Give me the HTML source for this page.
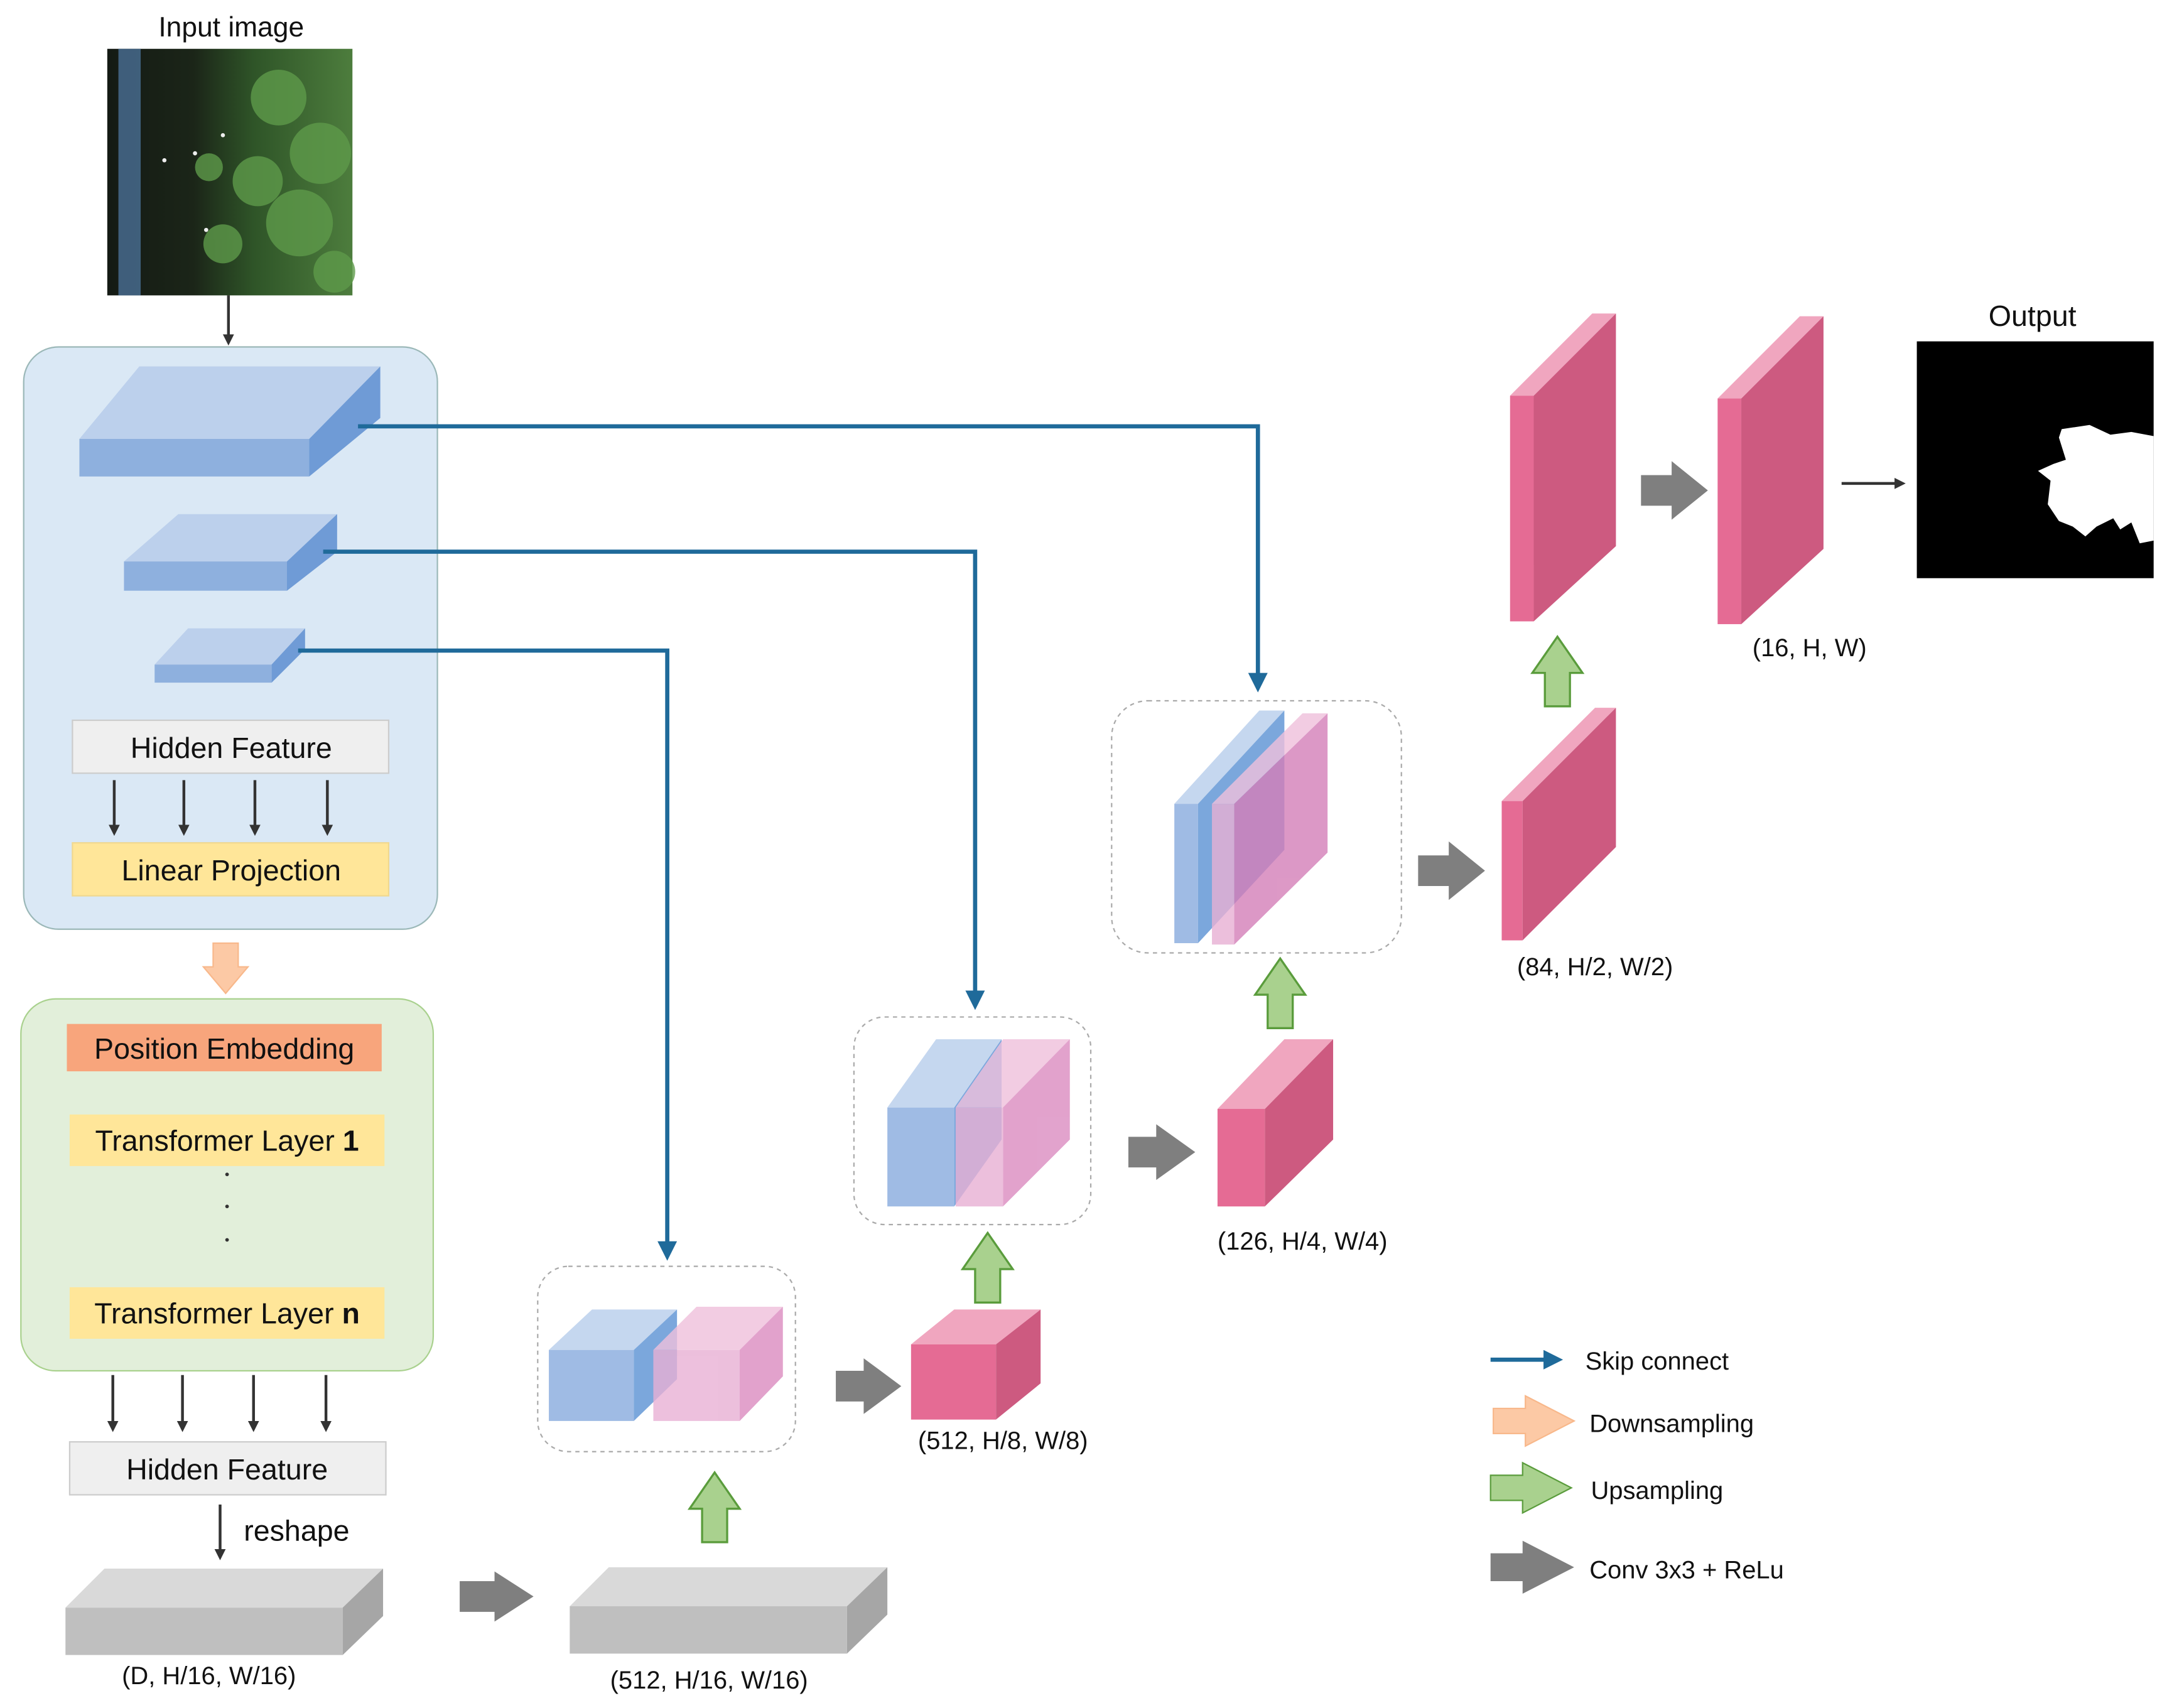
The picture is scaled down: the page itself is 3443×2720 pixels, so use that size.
<!DOCTYPE html>
<html><head><meta charset="utf-8"><style>
html,body{margin:0;padding:0;background:#fff;}
svg{display:block;}
text{font-family:"Liberation Sans",sans-serif;fill:#111;}
</style></head><body>
<svg width="3443" height="2720" viewBox="0 0 1552 1226" xmlns="http://www.w3.org/2000/svg">
<defs>
<linearGradient id="img" x1="0" y1="0" x2="1" y2="0">
<stop offset="0" stop-color="#141a14"/><stop offset="0.35" stop-color="#1b2518"/><stop offset="0.6" stop-color="#2f5528"/><stop offset="1" stop-color="#4d7d3d"/>
</linearGradient>
<marker id="ak" markerWidth="8" markerHeight="8" refX="6" refY="4" orient="auto" markerUnits="userSpaceOnUse"><path d="M0,0 L8,4 L0,8z" fill="#333"/></marker>
<marker id="ab" markerWidth="14" markerHeight="14" refX="10" refY="7" orient="auto" markerUnits="userSpaceOnUse"><path d="M0,0 L14,7 L0,14z" fill="#1f6a9a"/></marker>
</defs>

<!-- input image -->
<text x="166" y="26" font-size="20" text-anchor="middle">Input image</text>
<rect x="77" y="35" width="176" height="177" fill="url(#img)"/>
<rect x="85" y="35" width="16" height="177" fill="#4a6f95" opacity="0.8"/>
<g fill="#5e9a4a" opacity="0.8">
<circle cx="200" cy="70" r="20"/><circle cx="230" cy="110" r="22"/><circle cx="185" cy="130" r="18"/><circle cx="215" cy="160" r="24"/><circle cx="160" cy="175" r="14"/><circle cx="240" cy="195" r="15"/><circle cx="150" cy="120" r="10"/>
</g>
<g fill="#eee"><circle cx="160" cy="97" r="1.5"/><circle cx="140" cy="110" r="1.5"/><circle cx="148" cy="165" r="1.5"/><circle cx="118" cy="115" r="1.5"/></g>
<line x1="164" y1="212" x2="164" y2="246" stroke="#333" stroke-width="2" marker-end="url(#ak)"/>

<!-- blue encoder box -->
<rect x="17" y="249" width="297" height="418" rx="25" fill="#dae8f5" stroke="#9bb8b8" stroke-width="1"/>
<polygon points="57,315 100,263 273,263 222,315" fill="#bcd0ec"/>
<rect x="57" y="315" width="165" height="27" fill="#8eb0de"/>
<polygon points="222,315 273,263 273,300 222,342" fill="#6f9bd6"/>
<polygon points="89,403 128,369 242,369 206,403" fill="#bcd0ec"/>
<rect x="89" y="403" width="117" height="21" fill="#8eb0de"/>
<polygon points="206,403 242,369 242,396 206,424" fill="#6f9bd6"/>
<polygon points="111,477 135,451 219,451 195,477" fill="#bcd0ec"/>
<rect x="111" y="477" width="84" height="13" fill="#8eb0de"/>
<polygon points="195,477 219,451 219,466 195,490" fill="#6f9bd6"/>

<rect x="52" y="517" width="227" height="38" fill="#efefef" stroke="#ccc"/>
<text x="166" y="544" font-size="21" text-anchor="middle">Hidden Feature</text>
<g stroke="#333" stroke-width="2">
<line x1="82" y1="560" x2="82" y2="598" marker-end="url(#ak)"/>
<line x1="132" y1="560" x2="132" y2="598" marker-end="url(#ak)"/>
<line x1="183" y1="560" x2="183" y2="598" marker-end="url(#ak)"/>
<line x1="235" y1="560" x2="235" y2="598" marker-end="url(#ak)"/>
</g>
<rect x="52" y="605" width="227" height="38" fill="#ffe699" stroke="#f0d890"/>
<text x="166" y="632" font-size="21" text-anchor="middle">Linear Projection</text>

<!-- orange downsample -->
<polygon points="153,677 171,677 171,694 178,694 162,713 146,694 153,694" fill="#fcc9a5" stroke="#f8b88b"/>

<!-- green transformer box -->
<rect x="15" y="717" width="296" height="267" rx="25" fill="#e2efda" stroke="#a9d18e" stroke-width="1"/>
<rect x="48" y="735" width="226" height="34" fill="#f8a57c"/>
<text x="161" y="760" font-size="21" text-anchor="middle">Position Embedding</text>
<rect x="50" y="800" width="226" height="37" fill="#ffe699"/>
<text x="163" y="826" font-size="21" text-anchor="middle">Transformer Layer <tspan font-weight="bold">1</tspan></text>
<g fill="#333"><circle cx="163" cy="843" r="1.3"/><circle cx="163" cy="866" r="1.3"/><circle cx="163" cy="890" r="1.3"/></g>
<rect x="50" y="924" width="226" height="37" fill="#ffe699"/>
<text x="163" y="950" font-size="21" text-anchor="middle">Transformer Layer <tspan font-weight="bold">n</tspan></text>

<g stroke="#333" stroke-width="2">
<line x1="81" y1="987" x2="81" y2="1026" marker-end="url(#ak)"/>
<line x1="131" y1="987" x2="131" y2="1026" marker-end="url(#ak)"/>
<line x1="182" y1="987" x2="182" y2="1026" marker-end="url(#ak)"/>
<line x1="234" y1="987" x2="234" y2="1026" marker-end="url(#ak)"/>
<line x1="158" y1="1080" x2="158" y2="1118" marker-end="url(#ak)"/>
</g>
<rect x="50" y="1035" width="227" height="38" fill="#efefef" stroke="#ccc"/>
<text x="163" y="1062" font-size="21" text-anchor="middle">Hidden Feature</text>
<text x="175" y="1106" font-size="21">reshape</text>

<!-- gray slabs -->
<polygon points="47,1154 75,1126 275,1126 246,1154" fill="#d9d9d9"/>
<rect x="47" y="1154" width="199" height="34" fill="#bfbfbf"/>
<polygon points="246,1154 275,1126 275,1160 246,1188" fill="#a6a6a6"/>
<text x="150" y="1209" font-size="18" text-anchor="middle">(D, H/16, W/16)</text>
<polygon points="330,1135 355,1135 355,1128 383,1146 355,1164 355,1157 330,1157" fill="#7f7f7f"/>
<polygon points="409,1153 437,1125 637,1125 608,1153" fill="#d9d9d9"/>
<rect x="409" y="1153" width="199" height="34" fill="#bfbfbf"/>
<polygon points="608,1153 637,1125 637,1159 608,1187" fill="#a6a6a6"/>
<text x="509" y="1212" font-size="18" text-anchor="middle">(512, H/16, W/16)</text>

<!-- green up arrows -->
<g fill="#a9d18e" stroke="#5a9c3c" stroke-width="1.5">
<polygon points="504,1107 522,1107 522,1083 531,1083 513,1057 495,1083 504,1083"/>
<polygon points="700,935 718,935 718,911 727,911 709,885 691,911 700,911"/>
<polygon points="910,738 928,738 928,714 937,714 919,688 901,714 910,714"/>
<polygon points="1109,507 1127,507 1127,483 1136,483 1118,457 1100,483 1109,483"/>
</g>

<!-- stage 1 -->
<rect x="386" y="909" width="185" height="133" rx="22" fill="none" stroke="#aaa" stroke-dasharray="3,3"/>
<polygon points="394,969 425,940 486,940 455,969" fill="#c5d7ef"/>
<rect x="394" y="969" width="61" height="51" fill="#9fbbe4"/>
<polygon points="455,969 486,940 486,990 455,1020" fill="#7ba7dc"/>
<g opacity="0.8">
<polygon points="469,969 500,938 562,938 531,969" fill="#f0c0dc"/>
<rect x="469" y="969" width="62" height="51" fill="#e8b0d4"/>
<polygon points="531,969 562,938 562,988 531,1020" fill="#db8cc0"/>
</g>
<polygon points="600,984 620,984 620,975 647,995 620,1015 620,1006 600,1006" fill="#7f7f7f"/>
<polygon points="654,965 685,940 747,940 715,965" fill="#f0a6bf"/>
<rect x="654" y="965" width="61" height="54" fill="#e56b94"/>
<polygon points="715,965 747,940 747,993 715,1019" fill="#cd5a80"/>
<text x="720" y="1040" font-size="18" text-anchor="middle">(512, H/8, W/8)</text>

<!-- stage 2 -->
<rect x="613" y="730" width="170" height="149" rx="22" fill="none" stroke="#aaa" stroke-dasharray="3,3"/>
<polygon points="637,795 672,746 719,746 685,795" fill="#c5d7ef"/>
<rect x="637" y="795" width="48" height="71" fill="#9fbbe4"/>
<polygon points="685,795 719,746 719,818 685,866" fill="#7ba7dc"/>
<g opacity="0.8">
<polygon points="686,795 720,746 768,746 734,795" fill="#f0c0dc"/>
<rect x="686" y="795" width="34" height="71" fill="#e8b0d4"/>
<polygon points="720,795 768,746 768,818 720,866" fill="#db8cc0"/>
</g>
<polygon points="810,816 830,816 830,807 858,827 830,847 830,838 810,838" fill="#7f7f7f"/>
<polygon points="874,796 922,746 957,746 908,796" fill="#f0a6bf"/>
<rect x="874" y="796" width="34" height="70" fill="#e56b94"/>
<polygon points="908,796 957,746 957,818 908,866" fill="#cd5a80"/>
<text x="935" y="897" font-size="18" text-anchor="middle">(126, H/4, W/4)</text>

<!-- stage 3 -->
<rect x="798" y="503" width="208" height="181" rx="26" fill="none" stroke="#aaa" stroke-dasharray="3,3"/>
<polygon points="843,577 904,510 922,510 860,577" fill="#c5d7ef"/>
<rect x="843" y="577" width="17" height="100" fill="#9fbbe4"/>
<polygon points="860,577 922,510 922,610 860,677" fill="#7ba7dc"/>
<g opacity="0.8">
<polygon points="870,577 935,512 953,512 886,577" fill="#f0c0dc"/>
<rect x="870" y="577" width="16" height="101" fill="#e8b0d4"/>
<polygon points="886,577 953,512 953,612 886,678" fill="#d47fb8"/>
</g>
<polygon points="1018,614 1040,614 1040,604 1066,625 1040,646 1040,636 1018,636" fill="#7f7f7f"/>
<polygon points="1078,575 1145,508 1160,508 1093,575" fill="#f0a6bf"/>
<rect x="1078" y="575" width="15" height="100" fill="#e56b94"/>
<polygon points="1093,575 1160,508 1160,608 1093,675" fill="#cd5a80"/>
<text x="1145" y="700" font-size="18" text-anchor="middle">(84, H/2, W/2)</text>

<!-- final -->
<polygon points="1084,284 1143,225 1160,225 1101,284" fill="#f0a6bf"/>
<rect x="1084" y="284" width="17" height="162" fill="#e56b94"/>
<polygon points="1101,284 1160,225 1160,392 1101,446" fill="#cd5a80"/>
<polygon points="1178,341 1200,341 1200,331 1226,352 1200,373 1200,363 1178,363" fill="#7f7f7f"/>
<polygon points="1233,286 1292,227 1309,227 1250,286" fill="#f0a6bf"/>
<rect x="1233" y="286" width="17" height="162" fill="#e56b94"/>
<polygon points="1250,286 1309,227 1309,394 1250,448" fill="#cd5a80"/>
<text x="1299" y="471" font-size="18" text-anchor="middle">(16, H, W)</text>
<line x1="1322" y1="347" x2="1366" y2="347" stroke="#333" stroke-width="2" marker-end="url(#ak)"/>
<text x="1459" y="234" font-size="21" text-anchor="middle">Output</text>
<rect x="1376" y="245" width="170" height="170" fill="#000"/>
<path d="M1480,308 L1500,305 L1515,312 L1530,310 L1546,313 L1546,388 L1536,390 L1530,375 L1522,380 L1517,372 L1505,378 L1497,385 L1488,378 L1478,374 L1470,362 L1472,345 L1463,338 L1474,333 L1483,330 L1478,314 Z" fill="#fff"/>

<!-- skip connections -->
<g fill="none" stroke="#1f6a9a" stroke-width="3">
<polyline points="257,306 903,306 903,493" marker-end="url(#ab)"/>
<polyline points="232,396 700,396 700,721" marker-end="url(#ab)"/>
<polyline points="214,467 479,467 479,901" marker-end="url(#ab)"/>
</g>

<!-- legend -->
<line x1="1070" y1="976" x2="1118" y2="976" stroke="#1f6a9a" stroke-width="3" marker-end="url(#ab)"/>
<text x="1138" y="983" font-size="18">Skip connect</text>
<polygon points="1072,1011 1095,1011 1095,1002 1130,1020 1095,1038 1095,1029 1072,1029" fill="#fcc9a5" stroke="#f8b88b"/>
<text x="1141" y="1028" font-size="18">Downsampling</text>
<polygon points="1070,1059 1093,1059 1093,1050 1128,1068 1093,1086 1093,1077 1070,1077" fill="#a9d18e" stroke="#5a9c3c"/>
<text x="1142" y="1076" font-size="18">Upsampling</text>
<polygon points="1070,1115 1093,1115 1093,1106 1130,1125 1093,1144 1093,1135 1070,1135" fill="#7f7f7f"/>
<text x="1141" y="1133" font-size="18">Conv 3x3 + ReLu</text>
</svg>
</body></html>
